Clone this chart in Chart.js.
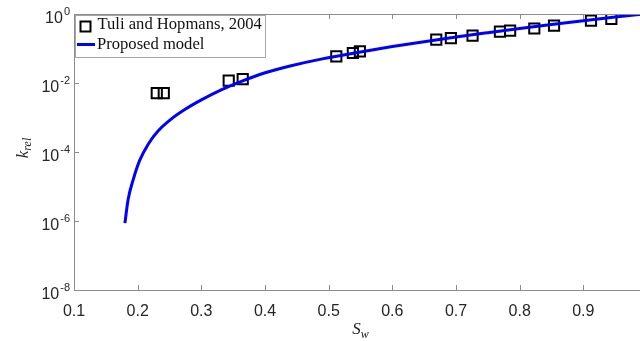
<!DOCTYPE html>
<html>
<head>
<meta charset="utf-8">
<script src="https://cdn.jsdelivr.net/npm/chart.js@4.4.1/dist/chart.umd.min.js"></script>
<style>
  html, body { margin: 0; padding: 0; background: #fff; overflow: hidden; width: 640px; height: 341px; }
  #wrap { width: 660px; height: 341px; }
</style>
</head>
<body>
<div id="wrap"><canvas id="krel" width="660" height="341"></canvas></div>
<script>
// measured points (Tuli and Hopmans, 2004)
const measSw = [0.230, 0.241, 0.343, 0.365, 0.512, 0.538, 0.549, 0.669, 0.692, 0.726, 0.769, 0.785, 0.823, 0.854, 0.912, 0.944];
const measK  = [5.1e-3, 5.1e-3, 1.17e-2, 1.3e-2, 5.9e-2, 7.4e-2, 8.3e-2, 0.18, 0.20, 0.235, 0.31, 0.33, 0.38, 0.46, 0.64, 0.72];

// proposed model curve
const modelSw = [0.180, 0.185, 0.193, 0.203, 0.217, 0.232, 0.253, 0.274, 0.300, 0.332, 0.363, 0.399,
                 0.441, 0.490, 0.550, 0.600, 0.650, 0.700, 0.750, 0.800, 0.850, 0.900, 0.950, 1.000];
const modelK  = [8.7e-7, 4.2e-6, 1.58e-5, 5.6e-5, 1.74e-4, 4.07e-4, 9.1e-4, 1.70e-3, 3.24e-3, 6.46e-3, 1.12e-2, 1.95e-2,
                 3.16e-2, 5.01e-2, 7.94e-2, 0.1135, 0.158, 0.216, 0.288, 0.380, 0.495, 0.638, 0.813, 1.023];

const xTicks = [0.1, 0.2, 0.3, 0.4, 0.5, 0.6, 0.7, 0.8, 0.9, 1.0];
const yTicks = [1e0, 1e-2, 1e-4, 1e-6, 1e-8];
const yExp   = ['0', '-2', '-4', '-6', '-8'];

const AXIS = '#8c8c8c';
const TXT = '#262626';

// box, inward ticks, y labels, axis titles and legend (MATLAB look)
const matlabAxes = {
  id: 'matlabAxes',
  afterDraw(chart) {
    const ctx = chart.ctx;
    const a = chart.chartArea;
    const xs = chart.scales.x, ys = chart.scales.y;
    ctx.save();
    ctx.strokeStyle = AXIS;
    ctx.lineWidth = 1;
    ctx.beginPath();
    ctx.rect(a.left + 0.5, a.top + 0.5, a.right - a.left, a.bottom - a.top);
    xTicks.forEach(v => {
      const px = Math.round(xs.getPixelForValue(v)) + 0.5;
      ctx.moveTo(px, a.bottom); ctx.lineTo(px, a.bottom - 5);
      ctx.moveTo(px, a.top); ctx.lineTo(px, a.top + 5);
    });
    yTicks.forEach(v => {
      const py = Math.round(ys.getPixelForValue(v)) + 0.5;
      ctx.moveTo(a.left, py); ctx.lineTo(a.left + 5, py);
      ctx.moveTo(a.right, py); ctx.lineTo(a.right - 5, py);
    });
    ctx.stroke();

    // y tick labels 10^n
    ctx.fillStyle = TXT;
    ctx.textBaseline = 'alphabetic';
    yTicks.forEach((v, i) => {
      const py = ys.getPixelForValue(v);
      ctx.font = '11px "Liberation Sans", Arial, sans-serif';
      const ew = ctx.measureText(yExp[i]).width;
      const right = a.left - 4;
      ctx.textAlign = 'right';
      ctx.fillText(yExp[i], right, py + 1);
      ctx.font = '16px "Liberation Sans", Arial, sans-serif';
      ctx.fillText('10', right - ew - 1, py + 8.5);
    });

    // x title S_w
    ctx.textAlign = 'left';
    ctx.font = 'italic 17px "Liberation Serif", "Times New Roman", serif';
    const sw = ctx.measureText('S').width;
    ctx.font = 'italic 12px "Liberation Serif", "Times New Roman", serif';
    const ww = ctx.measureText('w').width;
    const cx = (a.left + a.right) / 2;
    let x0 = cx - (sw + ww) / 2;
    ctx.font = 'italic 17px "Liberation Serif", "Times New Roman", serif';
    ctx.fillText('S', x0, 334);
    ctx.font = 'italic 12px "Liberation Serif", "Times New Roman", serif';
    ctx.fillText('w', x0 + sw, 338);

    // y title k_rel
    ctx.save();
    ctx.translate(28, 148);
    ctx.rotate(-Math.PI / 2);
    ctx.font = 'italic 17px "Liberation Serif", "Times New Roman", serif';
    const kw = ctx.measureText('k').width;
    ctx.font = 'italic 12px "Liberation Serif", "Times New Roman", serif';
    const rw = ctx.measureText('rel').width;
    x0 = -(kw + rw) / 2;
    ctx.font = 'italic 17px "Liberation Serif", "Times New Roman", serif';
    ctx.fillText('k', x0, 0);
    ctx.font = 'italic 12px "Liberation Serif", "Times New Roman", serif';
    ctx.fillText('rel', x0 + kw, 3);
    ctx.restore();

    // legend
    const ds = chart.data.datasets;
    ctx.fillStyle = '#fff';
    ctx.fillRect(75, 15, 190, 42);
    ctx.strokeStyle = '#a6a6a6';
    ctx.strokeRect(75.5, 15.5, 190, 42);
    ctx.strokeStyle = '#000';
    ctx.lineWidth = 2;
    ctx.strokeRect(80.5, 21.5, 10, 10);
    ctx.strokeStyle = '#0000ff';
    ctx.lineWidth = 3;
    ctx.beginPath();
    ctx.moveTo(77, 44.5); ctx.lineTo(95, 44.5);
    ctx.stroke();
    ctx.fillStyle = '#111';
    ctx.font = '16.6px "Liberation Serif", "Times New Roman", serif';
    ctx.textAlign = 'left';
    ctx.fillText(ds[0].label, 97.5, 29);
    ctx.fillText(ds[1].label, 97, 49);
    ctx.restore();
  }
};

new Chart(document.getElementById('krel'), {
  type: 'scatter',
  data: {
    datasets: [
      {
        label: 'Tuli and Hopmans, 2004',
        data: measSw.map((s, i) => ({ x: s, y: measK[i] })),
        pointStyle: 'rect',
        pointRadius: 7.2,
        borderColor: '#000',
        borderWidth: 2,
        backgroundColor: 'rgba(0,0,0,0)',
        order: 1
      },
      {
        label: 'Proposed model',
        type: 'line',
        data: modelSw.map((s, i) => ({ x: s, y: modelK[i] })),
        borderColor: '#0000ff',
        borderWidth: 3,
        pointRadius: 0,
        fill: false,
        cubicInterpolationMode: 'monotone',
        order: 0
      }
    ]
  },
  options: {
    responsive: false,
    animation: false,
    devicePixelRatio: 1,
    layout: { padding: { top: 14, right: 13, left: 0, bottom: 0 } },
    plugins: {
      legend: { display: false },
      tooltip: { enabled: false }
    },
    scales: {
      x: {
        type: 'linear',
        min: 0.1,
        max: 1.0,
        grid: { display: false },
        border: { display: false },
        afterBuildTicks: s => { s.ticks = xTicks.map(v => ({ value: v })); },
        afterFit: s => { s.height = 51; },
        ticks: {
          autoSkip: false,
          maxRotation: 0,
          padding: 4,
          color: TXT,
          font: { family: '"Liberation Sans", Arial, sans-serif', size: 16 },
          callback: v => String(Math.round(v * 10) / 10)
        }
      },
      y: {
        type: 'logarithmic',
        min: 1e-8,
        max: 1,
        grid: { display: false },
        border: { display: false },
        ticks: { display: false },
        afterFit: s => { s.width = 74; }
      }
    }
  },
  plugins: [matlabAxes]
});
</script>
</body>
</html>
